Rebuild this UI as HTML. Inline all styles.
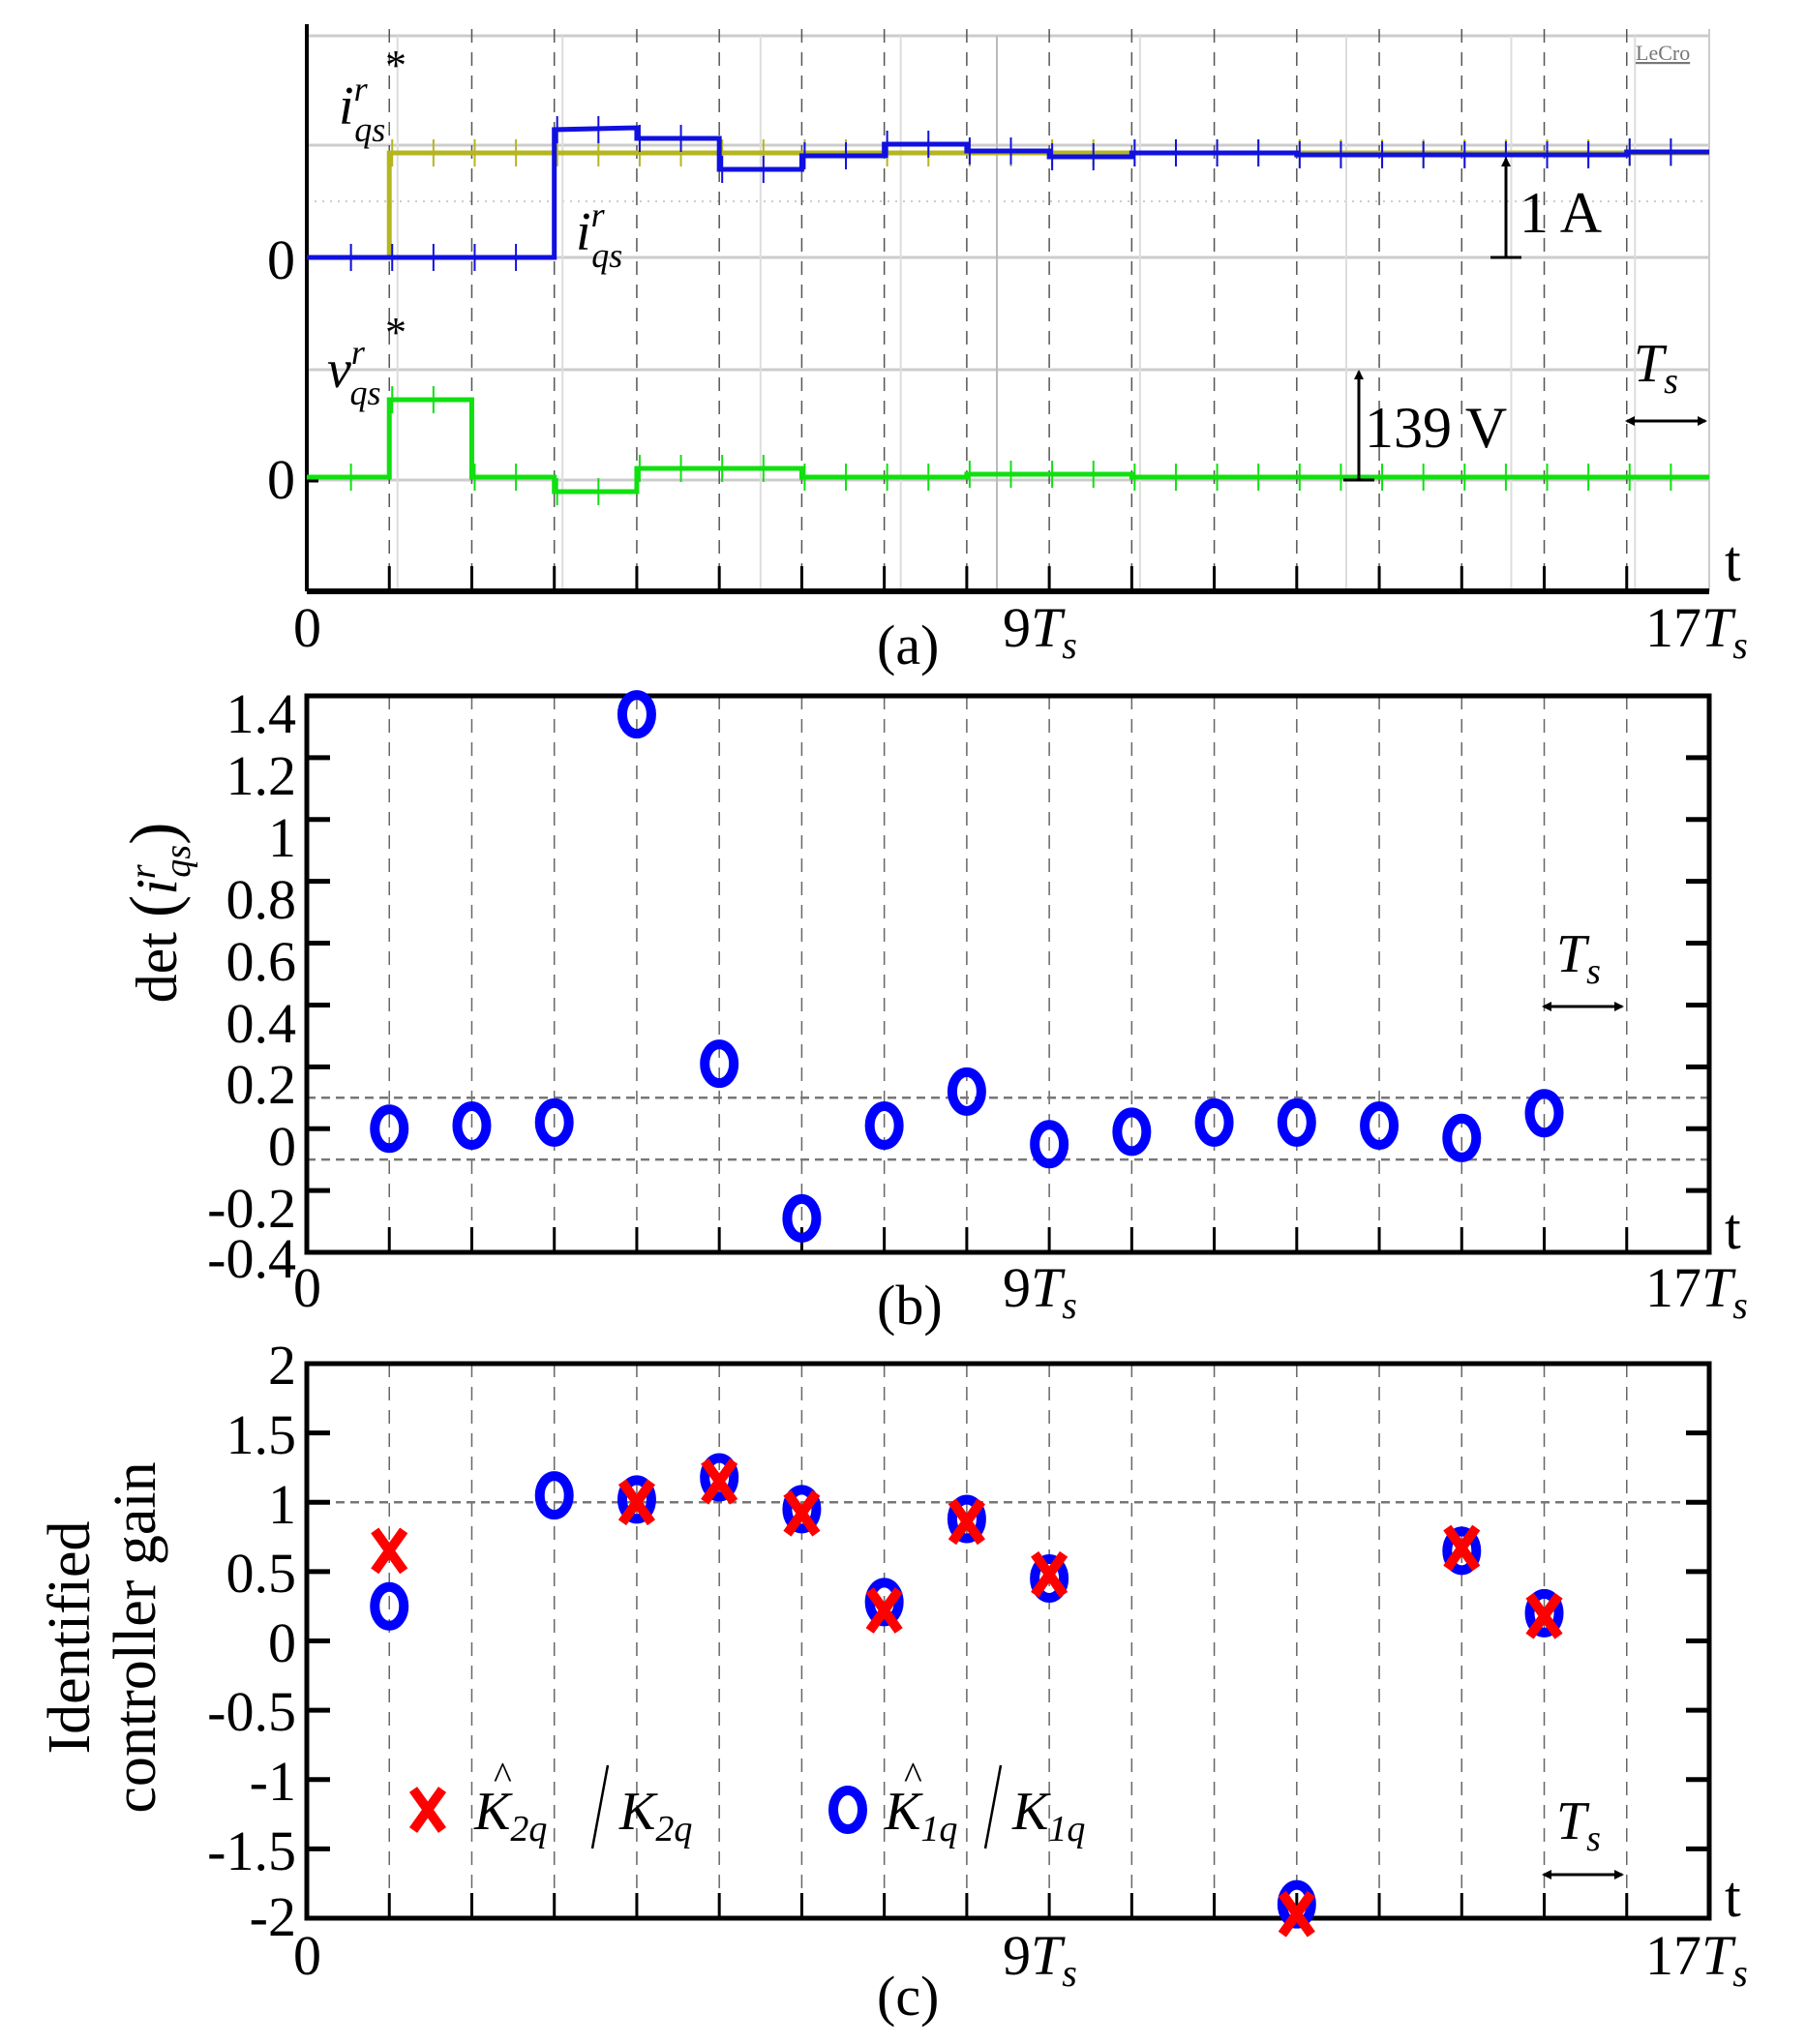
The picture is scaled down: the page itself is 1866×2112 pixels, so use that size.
<!DOCTYPE html>
<html><head><meta charset="utf-8"><style>
html,body{margin:0;padding:0;background:#fff}
svg{display:block}
text{font-family:"Liberation Serif",serif;fill:#000}
</style></head><body>
<svg id="s" width="1866" height="2112" viewBox="0 0 1866 2112" xmlns="http://www.w3.org/2000/svg">
<defs>
<marker id="ah" markerWidth="10" markerHeight="10" refX="8" refY="5" orient="auto-start-reverse" markerUnits="userSpaceOnUse"><path d="M0,0 L10,5 L0,10 z" fill="#000"/></marker>
</defs>
<g id="g"></g>
<!-- Panel a texts -->
<text x="1690" y="62" font-family="Liberation Sans" font-size="22" fill="#888" style="fill:#777;text-decoration:underline">LeCro</text>
<text x="350" y="128" font-size="56" font-style="italic">i<tspan font-size="36" dy="-24">r</tspan><tspan font-size="36" dx="-12" dy="42">qs</tspan></text>
<text x="398" y="82" font-size="44">*</text>
<text x="595" y="258" font-size="56" font-style="italic">i<tspan font-size="36" dy="-24">r</tspan><tspan font-size="36" dx="-12" dy="42">qs</tspan></text>
<text x="338" y="400" font-size="56" font-style="italic">v<tspan font-size="36" dy="-24">r</tspan><tspan font-size="36" dx="-14" dy="42">qs</tspan></text>
<text x="398" y="358" font-size="44">*</text>
<text x="276" y="288" font-size="58">0</text>
<text x="276" y="515" font-size="58">0</text>
<text x="1570" y="240" font-size="60">1 A</text>
<text x="1410" y="462" font-size="60">139 V</text>
<text x="1688" y="394" font-size="56" font-style="italic">T<tspan font-size="38" dy="12">s</tspan></text>
<text x="1782" y="600" font-size="60">t</text>
<text x="303" y="668" font-size="58">0</text>
<text x="906" y="686" font-size="58">(a)</text>
<text x="1036" y="668" font-size="58">9<tspan font-style="italic">T</tspan><tspan font-size="40" font-style="italic" dy="12">s</tspan></text>
<text x="1700" y="668" font-size="58">17<tspan font-style="italic">T</tspan><tspan font-size="40" font-style="italic" dy="12">s</tspan></text>
<!-- Panel b texts -->
<g font-size="58" text-anchor="end">
<text x="306" y="757">1.4</text><text x="306" y="821">1.2</text><text x="306" y="885">1</text>
<text x="306" y="949">0.8</text><text x="306" y="1013">0.6</text><text x="306" y="1077">0.4</text>
<text x="306" y="1140">0.2</text><text x="306" y="1204">0</text><text x="306" y="1268">-0.2</text>
<text x="306" y="1320">-0.4</text>
</g>
<text transform="translate(182,943) rotate(-90)" font-size="60" text-anchor="middle">det <tspan font-size="70">(</tspan><tspan font-style="italic">i</tspan><tspan font-size="38" font-style="italic" dy="-22">r</tspan><tspan font-size="38" font-style="italic" dx="-12" dy="36">qs</tspan><tspan font-size="70" dy="-14">)</tspan></text>
<text x="1608" y="1004" font-size="56" font-style="italic">T<tspan font-size="38" dy="12">s</tspan></text>
<text x="1782" y="1290" font-size="60">t</text>
<text x="303" y="1350" font-size="58">0</text>
<text x="906" y="1368" font-size="58">(b)</text>
<text x="1036" y="1350" font-size="58">9<tspan font-style="italic">T</tspan><tspan font-size="40" font-style="italic" dy="12">s</tspan></text>
<text x="1700" y="1350" font-size="58">17<tspan font-style="italic">T</tspan><tspan font-size="40" font-style="italic" dy="12">s</tspan></text>
<!-- Panel c texts -->
<g font-size="58" text-anchor="end">
<text x="306" y="1430">2</text><text x="306" y="1502">1.5</text><text x="306" y="1574">1</text>
<text x="306" y="1645">0.5</text><text x="306" y="1717">0</text><text x="306" y="1788">-0.5</text>
<text x="306" y="1860">-1</text><text x="306" y="1932">-1.5</text><text x="306" y="2000">-2</text>
</g>
<text transform="translate(92,1692) rotate(-90)" font-size="62" text-anchor="middle">Identified</text>
<text transform="translate(160,1692) rotate(-90)" font-size="62" text-anchor="middle">controller gain</text>
<text x="490" y="1890" font-size="56" font-style="italic">K<tspan font-size="38" dy="12">2q</tspan></text>
<text x="510" y="1848" font-size="40">^</text>
<line x1="612" y1="1910" x2="628" y2="1824" stroke="#000" stroke-width="2.5"/>
<text x="640" y="1890" font-size="56" font-style="italic">K<tspan font-size="38" dy="12">2q</tspan></text>
<text x="914" y="1890" font-size="56" font-style="italic">K<tspan font-size="38" dy="12">1q</tspan></text>
<text x="934" y="1848" font-size="40">^</text>
<line x1="1018" y1="1910" x2="1034" y2="1824" stroke="#000" stroke-width="2.5"/>
<text x="1046" y="1890" font-size="56" font-style="italic">K<tspan font-size="38" dy="12">1q</tspan></text>
<text x="1608" y="1900" font-size="56" font-style="italic">T<tspan font-size="38" dy="12">s</tspan></text>
<text x="1782" y="1980" font-size="60">t</text>
<text x="303" y="2040" font-size="58">0</text>
<text x="906" y="2082" font-size="58">(c)</text>
<text x="1036" y="2040" font-size="58">9<tspan font-style="italic">T</tspan><tspan font-size="40" font-style="italic" dy="12">s</tspan></text>
<text x="1700" y="2040" font-size="58">17<tspan font-style="italic">T</tspan><tspan font-size="40" font-style="italic" dy="12">s</tspan></text>
</svg>
<script>
var NS="http://www.w3.org/2000/svg",g=document.getElementById("g");
function el(t,a){var e=document.createElementNS(NS,t);for(var k in a)e.setAttribute(k,a[k]);g.appendChild(e);return e;}
var L=317,R=1766,W=(R-L)/17;function X(k){return L+k*W;}
// ---------- panel a ----------
[37,150,266,382,496].forEach(function(y){el("line",{x1:L,y1:y,x2:R,y2:y,stroke:"#ccc","stroke-width":3});});
el("line",{x1:L,y1:208,x2:R,y2:208,stroke:"#ccc","stroke-width":2,"stroke-dasharray":"2 6"});
[1.1,3.1,5.5,7.2,10.1,12.6,14.6,16.1].forEach(function(k){el("line",{x1:X(k),y1:37,x2:X(k),y2:611,stroke:"#ddd","stroke-width":2});});
el("line",{x1:1030,y1:37,x2:1030,y2:611,stroke:"#bbb","stroke-width":2});
for(var k=1;k<17;k++){el("line",{x1:X(k),y1:30,x2:X(k),y2:611,stroke:"#555","stroke-width":1.5,"stroke-dasharray":"14 10"});
 el("line",{x1:X(k),y1:611,x2:X(k),y2:585,stroke:"#000","stroke-width":3});}
el("line",{x1:R,y1:30,x2:R,y2:611,stroke:"#ccc","stroke-width":2});
el("line",{x1:L,y1:25,x2:L,y2:611,stroke:"#000","stroke-width":4});
el("line",{x1:L,y1:611,x2:R,y2:611,stroke:"#000","stroke-width":6});
el("line",{x1:L,y1:266,x2:L+12,y2:266,stroke:"#000","stroke-width":5});
el("line",{x1:L,y1:496,x2:L+12,y2:496,stroke:"#000","stroke-width":5});
function trace(pts,col){var d="";pts.forEach(function(p,i){d+=(i?"L":"M")+X(p[0])+","+p[1]+" ";});el("path",{d:d,stroke:col,"stroke-width":5,fill:"none"});
 for(var k=0.5;k<17;k+=0.5){var y=null;for(var i=0;i<pts.length;i++){if(pts[i][0]<=k)y=pts[i][1];}el("line",{x1:X(k)+3,y1:y-14,x2:X(k)+3,y2:y+14,stroke:col,"stroke-width":2});}}
trace([[0,266],[1,266],[1,158],[17,158]],"#b5b520");
trace([[0,266],[3,266],[3,134],[4,132],[4,143],[5,143],[5,175],[6,175],[6,161],[7,161],[7,149],[8,149],[8,156],[9,156],[9,162],[10,162],[10,158],[12,158],[12,160],[16,160],[16,157],[17,157]],"#1010e0");
trace([[0,493],[1,493],[1,413],[2,413],[2,493],[3,493],[3,508],[4,508],[4,484],[6,484],[6,493],[8,493],[8,490],[10,490],[10,493],[17,493]],"#10e010");
el("line",{x1:1556,y1:266,x2:1556,y2:164,stroke:"#000","stroke-width":3,"marker-end":"url(#ah)"});
el("line",{x1:1540,y1:266,x2:1572,y2:266,stroke:"#000","stroke-width":3});
el("line",{x1:1404,y1:496,x2:1404,y2:384,stroke:"#000","stroke-width":3,"marker-end":"url(#ah)"});
el("line",{x1:1388,y1:496,x2:1420,y2:496,stroke:"#000","stroke-width":3});
function harrow(x1,x2,y){el("line",{x1:x1,y1:y,x2:x2,y2:y,stroke:"#000","stroke-width":3,"marker-start":"url(#ah)","marker-end":"url(#ah)"});}
harrow(1681,1762,435);
// ---------- panel b/c frames ----------
function frame(T,B,ticks,hd){
 for(var k=1;k<17;k++){el("line",{x1:X(k),y1:T,x2:X(k),y2:B,stroke:"#666","stroke-width":1.5,"stroke-dasharray":"14 10"});
  el("line",{x1:X(k),y1:B,x2:X(k),y2:B-26,stroke:"#000","stroke-width":3});}
 hd.forEach(function(y){el("line",{x1:L,y1:y,x2:R,y2:y,stroke:"#777","stroke-width":2.5,"stroke-dasharray":"9 6"});});
 ticks.forEach(function(y){el("line",{x1:L,y1:y,x2:L+24,y2:y,stroke:"#000","stroke-width":5});el("line",{x1:R,y1:y,x2:R-24,y2:y,stroke:"#000","stroke-width":5});});
 el("rect",{x:L,y:T,width:R-L,height:B-T,fill:"none",stroke:"#000","stroke-width":5});
}
var bT=719,bB=1294;function YB(v){return bT+(1.4-v)/1.8*(bB-bT);}
var tb=[];for(var v=1.2;v>-0.39;v-=0.2)tb.push(YB(v));
frame(bT,bB,tb,[YB(0.1),YB(-0.1)]);
harrow(1595,1676,1040);
function circ(x,y){el("ellipse",{cx:x,cy:y,rx:15,ry:20,fill:"none",stroke:"#0000ff","stroke-width":10});}
function cross(x,y){el("path",{d:"M"+(x-15)+","+(y-21)+"L"+(x+15)+","+(y+21)+"M"+(x+15)+","+(y-21)+"L"+(x-15)+","+(y+21),stroke:"#ff0000","stroke-width":10});}
[0,0.01,0.02,1.34,0.21,-0.29,0.01,0.12,-0.05,-0.01,0.02,0.02,0.01,-0.03,0.05].forEach(function(v,i){circ(X(i+1),YB(v));});
var cT=1409,cB=1982;function YC(v){return cT+(2-v)/4*(cB-cT);}
var tc=[];for(var v=1.5;v>-1.9;v-=0.5)tc.push(YC(v));
frame(cT,cB,tc,[YC(1)]);
harrow(1595,1676,1937);
[[1,0.25],[3,1.05],[4,1.02],[5,1.18],[6,0.95],[7,0.28],[8,0.88],[9,0.45],[12,-1.9],[14,0.65],[15,0.2]].forEach(function(p){circ(X(p[0]),YC(p[1]));});
[[1,0.65],[4,1.0],[5,1.15],[6,0.92],[7,0.22],[8,0.86],[9,0.48],[12,-1.97],[14,0.67],[15,0.18]].forEach(function(p){cross(X(p[0]),YC(p[1]));});
cross(442,1870);circ(876,1870);
</script>
</body></html>
